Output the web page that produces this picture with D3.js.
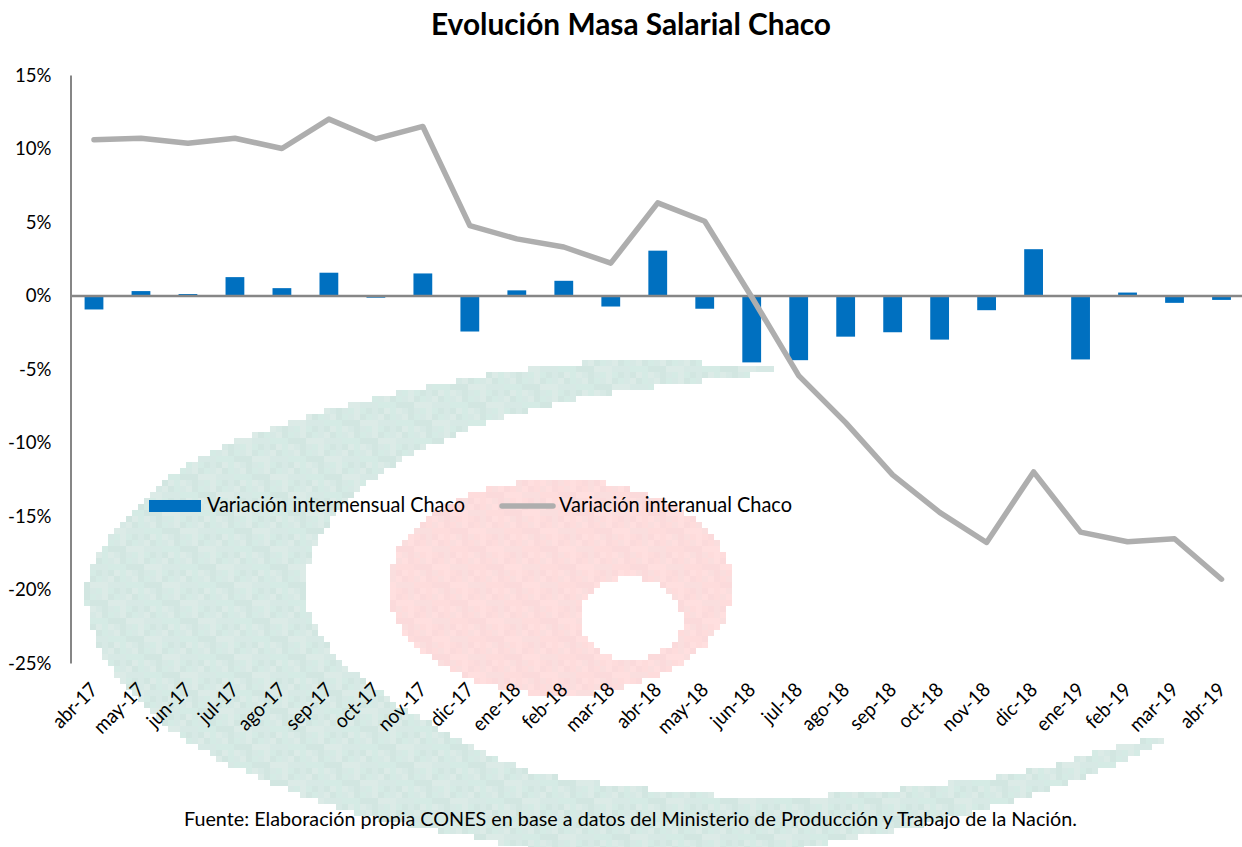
<!DOCTYPE html>
<html>
<head>
<meta charset="utf-8">
<script src="https://cdn.jsdelivr.net/npm/d3@7/dist/d3.min.js"></script>
<style>
html,body{margin:0;padding:0;background:#fff;overflow:hidden}
svg{display:block}
text{font-family:Lato,"Open Sans",sans-serif;fill:#000}
</style>
</head>
<body>
<svg id="chart" width="1242" height="847"></svg>
<script>
const categories = ["abr-17","may-17","jun-17","jul-17","ago-17","sep-17","oct-17","nov-17","dic-17","ene-18","feb-18","mar-18","abr-18","may-18","jun-18","jul-18","ago-18","sep-18","oct-18","nov-18","dic-18","ene-19","feb-19","mar-19","abr-19"];
const intermensual = [-0.95,0.3,0.1,1.25,0.5,1.55,-0.15,1.5,-2.45,0.35,1.0,-0.75,3.05,-0.9,-4.55,-4.4,-2.8,-2.5,-3.0,-1.0,3.15,-4.35,0.2,-0.5,-0.3];
const interanual = [10.6,10.7,10.35,10.7,10.0,12.0,10.65,11.5,4.75,3.85,3.3,2.2,6.3,5.05,-0.1,-5.45,-8.65,-12.2,-14.75,-16.8,-12.0,-16.1,-16.75,-16.55,-19.3];
const yTicks = [15,10,5,0,-5,-10,-15,-20,-25];
const titleText = "Evolución Masa Salarial Chaco";
const sourceText = "Fuente: Elaboración propia CONES en base a datos del Ministerio de Producción y Trabajo de la Nación.";
const legendBar = "Variación intermensual Chaco";
const legendLine = "Variación interanual Chaco";

// Background watermark outline (logo, decorative)
const crescentOuter = [[772,368],[700,363],[596,362],[538,368],[494,374],[459,380],[354,403],[244,438],[170,477],[106,543],[86,593],[106,660],[175,733],[335,807],[487,840],[600,862],[760,860],[825,843],[899,830],[999,805],[1090,775],[1142,752],[1172,735]];
const crescentInner = [[1172,734],[1112,748],[1047,767],[951,783],[830,795],[712,795],[638,788],[560,777],[519,767],[381,693],[322,637],[306,593],[322,533],[381,473],[496,420],[611,393],[739,377],[772,372]];

const svg = d3.select("#chart");
const x = d3.scaleBand().domain(categories).range([70.5,1245]).paddingInner(0.6).paddingOuter(0.3);
const y = d3.scaleLinear().domain([-25,15]).range([663,75]);
const cx = c => x(c) + x.bandwidth()/2;

// ---- pixelated watermark ----
const wm = svg.append("g").attr("class","watermark");
const cell = 6;
function sample(points){
  const p = document.createElementNS("http://www.w3.org/2000/svg","path");
  p.setAttribute("d", d3.line().curve(d3.curveCatmullRom)(points));
  const L = p.getTotalLength(), out = [];
  for(let s=0;s<=L;s+=6){ const q=p.getPointAtLength(s); out.push([q.x,q.y]); }
  return out;
}
const crescent = sample(crescentOuter).concat(sample(crescentInner));
const inEllipse = (px,py,c,rx,ry)=>((px-c[0])/rx)**2+((py-c[1])/ry)**2<=1;
const greens = ["#d5ebe5","#d2e6e1","#dcebe7","#d7e9e5"];
const pinks  = ["#fedcdc","#fbdadb","#ffdfdf","#fadede"];
const buckets = {};
greens.concat(pinks).forEach(c=>buckets[c]="");
for(let gy=360;gy<847;gy+=cell){
  for(let gx=84;gx<1180;gx+=cell){
    const px=gx+cell/2, py=gy+cell/2;
    const shade=(((gx/cell)|0)*3+((gy/cell)|0)*5+(((gx/cell)|0)*((gy/cell)|0))%3)%4;
    let col=null;
    if(inEllipse(px,py,[560,587],172,108) && !inEllipse(px,py,[631,619],51,41)) col=pinks[shade];
    else if(d3.polygonContains(crescent,[px,py])) col=greens[shade];
    if(col) buckets[col]+=`M${gx} ${gy}h${cell}v${cell}h${-cell}z`;
  }
}
Object.entries(buckets).forEach(([c,d])=>wm.append("path").attr("d",d).attr("fill",c));

// ---- bars ----
svg.append("g").selectAll("rect").data(intermensual).join("rect")
  .attr("x",(d,i)=>x(categories[i]))
  .attr("width",x.bandwidth())
  .attr("y",d=>y(Math.max(0,d)))
  .attr("height",d=>Math.abs(y(d)-y(0)))
  .attr("fill","#0070c0");

// compress Lato towards the narrower look of the original face
function squeeze(sel, k){
  sel.each(function(){
    this.setAttribute("lengthAdjust","spacingAndGlyphs");
    this.setAttribute("textLength", this.getComputedTextLength()*k);
  });
}

// ---- axes ----
const yAxis = svg.append("g").attr("transform","translate(70.5,0)")
  .call(d3.axisLeft(y).tickValues(yTicks).tickSize(0).tickPadding(19).tickFormat(d=>d+"%"));
yAxis.select(".domain").attr("stroke","#868686").attr("stroke-width",2);
yAxis.selectAll("text").attr("font-size",20).style("font-family","Lato").call(squeeze,0.93);

const xAxis = svg.append("g").attr("transform",`translate(0,${y(0)})`)
  .call(d3.axisBottom(x).tickSize(0).tickFormat(""));
xAxis.select(".domain").attr("stroke","#868686").attr("stroke-width",2.4);

const labels = svg.append("g").attr("transform",`translate(0,${y(-25)})`)
  .call(d3.axisBottom(x).tickSize(0).tickPadding(0));
labels.select(".domain").remove();
labels.selectAll("text")
  .attr("font-size",20).style("font-family","Lato")
  .attr("text-anchor","end").attr("dy",null).attr("y",0)
  .attr("transform","translate(5,28) rotate(-45)")
  .call(squeeze,0.93);

// ---- line ----
svg.append("path").datum(interanual)
  .attr("fill","none").attr("stroke","#aeaeae").attr("stroke-width",5.5)
  .attr("stroke-linecap","round").attr("stroke-linejoin","round")
  .attr("d",d3.line().x((d,i)=>cx(categories[i])).y(d=>y(d)));

// ---- legend ----
const leg = svg.append("g");
leg.append("rect").attr("x",149).attr("y",500).attr("width",52).attr("height",12).attr("fill","#0070c0");
leg.append("text").attr("x",207).attr("y",512).attr("font-size",20.5).attr("textLength",258).attr("lengthAdjust","spacingAndGlyphs").text(legendBar);
leg.append("line").attr("x1",502).attr("x2",553).attr("y1",506).attr("y2",506).attr("stroke","#aeaeae").attr("stroke-width",5.5).attr("stroke-linecap","round");
leg.append("text").attr("x",559).attr("y",512).attr("font-size",20.5).attr("textLength",233).attr("lengthAdjust","spacingAndGlyphs").text(legendLine);

// ---- title & source ----
svg.append("text").attr("x",431).attr("y",35).attr("font-size",30).attr("font-weight",700).attr("textLength",400).attr("lengthAdjust","spacingAndGlyphs").text(titleText);
svg.append("text").attr("x",184).attr("y",826).attr("font-size",20).attr("textLength",893).attr("lengthAdjust","spacingAndGlyphs").text(sourceText);
</script>
</body>
</html>
